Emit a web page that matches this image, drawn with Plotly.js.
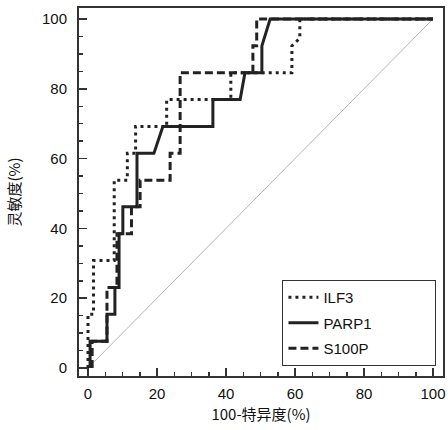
<!DOCTYPE html>
<html>
<head>
<meta charset="utf-8">
<script src="https://cdn.plot.ly/plotly-3.0.1.min.js"></script>
<style>html,body{margin:0;padding:0;background:#fff;}#chart{width:448px;height:430px;}</style>
</head>
<body>
<div id="chart"></div>
<script>
// ROC data: x = 100 - specificity (%), y = sensitivity (%)
const seriesNames = ["ILF3", "PARP1", "S100P"];
const ilf3X = [0, 0, 1.6, 1.6, 7.6, 7.6, 11.4, 11.4, 13.8, 13.8, 22.8, 22.8, 41.4, 41.4, 59.1, 59.1, 61.4, 61.4, 100];
const ilf3Y = [0, 15.4, 15.4, 30.8, 30.8, 53.8, 53.8, 61.5, 61.5, 69.2, 69.2, 76.9, 76.9, 84.6, 84.6, 92.3, 94.5, 100, 100];
const parp1X = [0.6, 0.6, 5.5, 5.5, 7.8, 7.8, 9.0, 9.0, 10.1, 10.1, 14.2, 14.2, 19.1, 21.7, 36.2, 36.2, 44.1, 45.5, 50.4, 50.4, 52.8, 100];
const parp1Y = [0, 7.7, 7.7, 15.4, 15.4, 23.1, 23.1, 38.5, 38.5, 46.2, 46.2, 61.5, 61.5, 69.2, 69.2, 76.9, 76.9, 84.6, 84.6, 92.3, 100, 100];
const s100pX = [1.2, 1.2, 5.5, 5.5, 8.4, 8.4, 12.6, 12.6, 15.1, 15.1, 23.8, 23.8, 26.7, 26.7, 47.8, 47.8, 48.9, 48.9, 100];
const s100pY = [0, 7.7, 7.7, 23.1, 23.1, 38.5, 38.5, 46.2, 46.2, 53.8, 53.8, 61.5, 61.5, 84.6, 84.6, 92.3, 92.3, 100, 100];
const refX = [0, 100];
const refY = [0, 100];
const axisTicks = [0, 20, 40, 60, 80, 100];

const dark = "#222";
// trailing non-breaking spaces widen the legend box to match the reference
const pad = "\u00a0".repeat(14);
const traces = [
  {x: refX, y: refY, mode: "lines", line: {color: "#b4b4b4", width: 1}, showlegend: false, hoverinfo: "skip"},
  {x: ilf3X, y: ilf3Y, name: seriesNames[0] + pad, legendgroup: "a", mode: "lines", line: {color: dark, width: 3, dash: "3px,4px"}},
  {x: parp1X, y: parp1Y, name: seriesNames[1] + pad, legendgroup: "b", mode: "lines", line: {color: dark, width: 3, dash: "solid"}},
  {x: s100pX, y: s100pY, name: seriesNames[2] + pad, legendgroup: "c", mode: "lines", line: {color: dark, width: 3, dash: "8px,4px"}}
];

const tickFont = {family: "Liberation Sans, Arial, sans-serif", size: 15, color: "#111"};
const titleFont = {family: "Noto Sans CJK SC, sans-serif", size: 15, color: "#111"};

const layout = {
  width: 448, height: 430,
  margin: {l: 79, r: 5, t: 8, b: 54},
  paper_bgcolor: "#fff", plot_bgcolor: "#fff",
  showlegend: true,
  legend: {
    x: 0.982, xanchor: "right", y: 0.027, yanchor: "bottom",
    bgcolor: "#fff", bordercolor: "#333", borderwidth: 1,
    font: {family: "Liberation Sans, Arial, sans-serif", size: 15, color: "#111"},
    traceorder: "grouped", tracegroupgap: 3
  },
  xaxis: {
    range: [-2.61, 102.9], tickvals: axisTicks, ticktext: axisTicks.map(String),
    ticks: "inside", ticklen: 8, tickwidth: 1.5, tickcolor: "#333",
    minor: {dtick: 5, ticks: "inside", ticklen: 4, tickwidth: 1.5, tickcolor: "#333"},
    showline: true, linecolor: "#333", linewidth: 2, mirror: true,
    showgrid: false, zeroline: false, tickfont: tickFont, ticklabelstandoff: 3,
    title: {text: "100-特异度(%)", font: titleFont, standoff: 8}
  },
  yaxis: {
    range: [-2.29, 103.15], tickvals: axisTicks, ticktext: axisTicks.map(String),
    ticks: "inside", ticklen: 8, tickwidth: 1.5, tickcolor: "#333",
    minor: {dtick: 5, ticks: "inside", ticklen: 4, tickwidth: 1.5, tickcolor: "#333"},
    showline: true, linecolor: "#333", linewidth: 2, mirror: true,
    showgrid: false, zeroline: false, tickfont: tickFont, ticklabelstandoff: 7,
    title: {text: "灵敏度(%)", font: titleFont, standoff: 18}
  }
};

Plotly.newPlot("chart", traces, layout, {displayModeBar: false, staticPlot: true});
</script>
</body>
</html>
